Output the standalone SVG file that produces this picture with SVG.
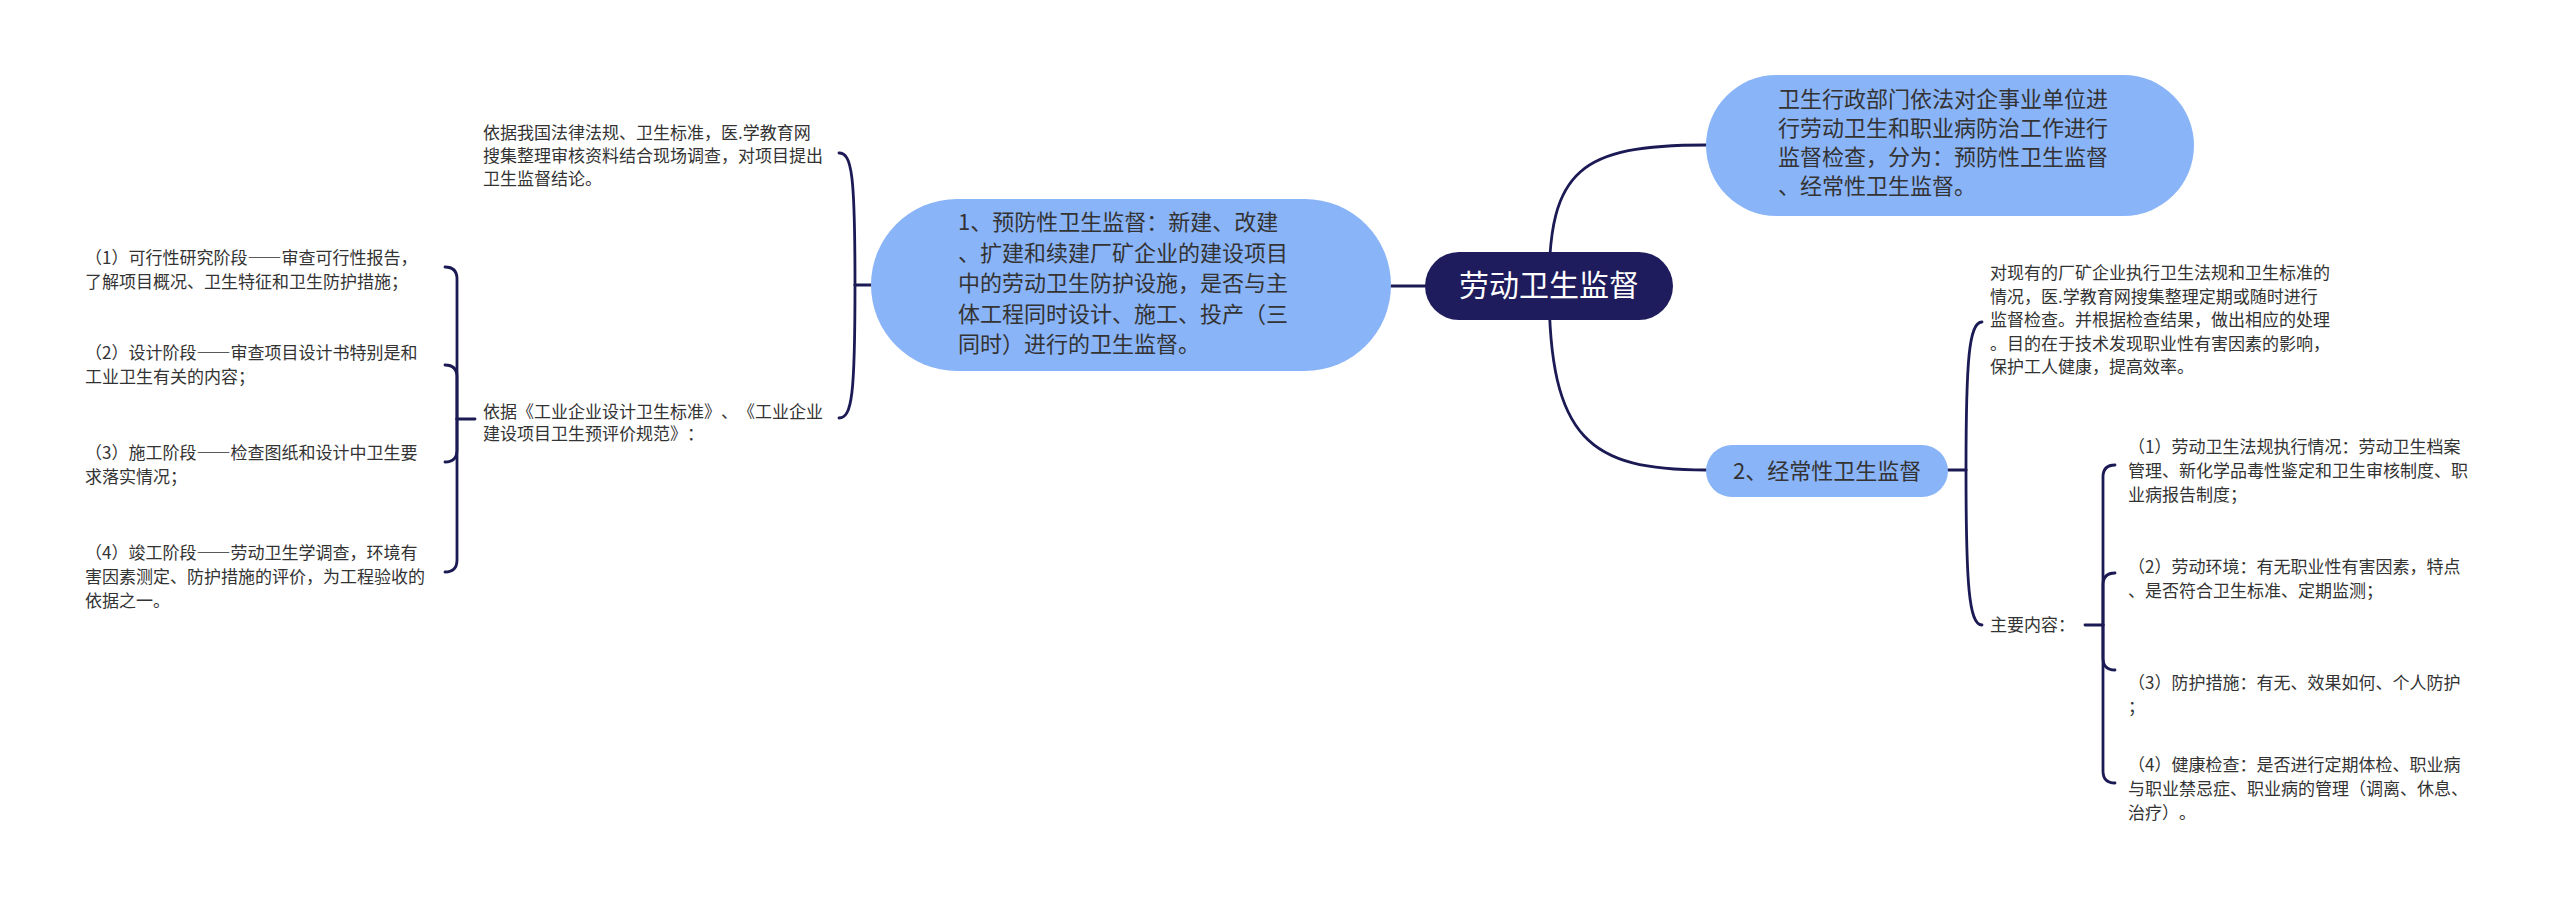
<svg xmlns="http://www.w3.org/2000/svg" width="2560" height="901" viewBox="0 0 2560 901">
<style>
.bg{fill:#ffffff}
.edge{fill:none;stroke:#1c1a55;stroke-width:2.8;stroke-linecap:round}
.root{fill:#1e1c5c}
.blue{fill:#8ab4f8}
.t{font-family:"Noto Sans CJK SC","Noto Sans",sans-serif;text-spacing-trim:space-all}
.rootT{font-size:30px;fill:#ffffff}
.bT{font-size:22px;fill:#333333}
.sT{font-size:17px;fill:#333333}
.fw{font-feature-settings:"fwid"}
</style>
<rect class="bg" x="0" y="0" width="2560" height="901"/>
<g id="connectors">
  <path class="edge" d="M1425,286 H1391"/>
  <path class="edge" d="M1549,286 C1549,170 1580,145 1706,145"/>
  <path class="edge" d="M1549,286 C1549,440 1590,470 1706,470"/>
  <path class="edge" d="M871,285 H855"/>
  <path class="edge" d="M855,285 C855,175 852,153 839,153"/>
  <path class="edge" d="M855,285 C855,395 852,418 839,418"/>
  <path class="edge" d="M475,419 H457"/>
  <path class="edge" d="M457,419 V279 Q457,267 445,267"/>
  <path class="edge" d="M457,419 V377 Q457,365 445,365"/>
  <path class="edge" d="M457,419 V450 Q457,462 445,462"/>
  <path class="edge" d="M457,419 V560 Q457,572 445,572"/>
  <path class="edge" d="M1948,470 H1966"/>
  <path class="edge" d="M1966,470 C1966,360 1969,322 1982,322"/>
  <path class="edge" d="M1966,470 C1966,585 1969,625 1982,625"/>
  <path class="edge" d="M2085,625 H2103"/>
  <path class="edge" d="M2103,625 V477 Q2103,465 2115,465"/>
  <path class="edge" d="M2103,625 V585 Q2103,573 2115,573"/>
  <path class="edge" d="M2103,625 V658 Q2103,670 2115,670"/>
  <path class="edge" d="M2103,625 V771 Q2103,783 2115,783"/>
</g>
<g id="root">
  <rect class="root" x="1425" y="252" width="248" height="68" rx="34"/>
  <text class="t rootT" x="1549" y="296" text-anchor="middle">劳动卫生监督</text>
</g>
<g id="node1">
  <rect class="blue" x="871" y="199" width="520" height="172" rx="86"/>
  <text class="t bT">
    <tspan x="958" y="230">1、预防性卫生监督：新建、改建</tspan>
    <tspan x="958" y="261">、扩建和续建厂矿企业的建设项目</tspan>
    <tspan x="958" y="291">中的劳动卫生防护设施，是否与主</tspan>
    <tspan x="958" y="322">体工程同时设计、施工、投产（三</tspan>
    <tspan x="958" y="352">同时）进行的卫生监督。</tspan>
  </text>
</g>
<g id="node-top">
  <rect class="blue" x="1706" y="75" width="488" height="141" rx="70.5"/>
  <text class="t bT">
    <tspan x="1778" y="107">卫生行政部门依法对企事业单位进</tspan>
    <tspan x="1778" y="136">行劳动卫生和职业病防治工作进行</tspan>
    <tspan x="1778" y="165">监督检查，分为：预防性卫生监督</tspan>
    <tspan x="1778" y="194">、经常性卫生监督。</tspan>
  </text>
</g>
<g id="node2">
  <rect class="blue" x="1706" y="445" width="242" height="52" rx="26"/>
  <text class="t bT" x="1733" y="479">2、经常性卫生监督</text>
</g>
<g id="n1-basis">
  <text class="t sT">
    <tspan x="483" y="139">依据我国法律法规、卫生标准，医.学教育网</tspan>
    <tspan x="483" y="162">搜集整理审核资料结合现场调查，对项目提出</tspan>
    <tspan x="483" y="185">卫生监督结论。</tspan>
  </text>
</g>
<g id="n1-standards">
  <text class="t sT">
    <tspan x="483" y="418">依据《工业企业设计卫生标准》、《工业企业</tspan>
    <tspan x="483" y="440">建设项目卫生预评价规范》：</tspan>
  </text>
</g>
<g id="stage1">
  <text class="t sT">
    <tspan x="85" y="264">（1）可行性研究阶段<tspan class="fw">——</tspan>审查可行性报告，</tspan>
    <tspan x="85" y="288">了解项目概况、卫生特征和卫生防护措施；</tspan>
  </text>
</g>
<g id="stage2">
  <text class="t sT">
    <tspan x="85" y="359">（2）设计阶段<tspan class="fw">——</tspan>审查项目设计书特别是和</tspan>
    <tspan x="85" y="383">工业卫生有关的内容；</tspan>
  </text>
</g>
<g id="stage3">
  <text class="t sT">
    <tspan x="85" y="459">（3）施工阶段<tspan class="fw">——</tspan>检查图纸和设计中卫生要</tspan>
    <tspan x="85" y="483">求落实情况；</tspan>
  </text>
</g>
<g id="stage4">
  <text class="t sT">
    <tspan x="85" y="559">（4）竣工阶段<tspan class="fw">——</tspan>劳动卫生学调查，环境有</tspan>
    <tspan x="85" y="583">害因素测定、防护措施的评价，为工程验收的</tspan>
    <tspan x="85" y="607">依据之一。</tspan>
  </text>
</g>
<g id="n2-desc">
  <text class="t sT">
    <tspan x="1990" y="279">对现有的厂矿企业执行卫生法规和卫生标准的</tspan>
    <tspan x="1990" y="302.5">情况，医.学教育网搜集整理定期或随时进行</tspan>
    <tspan x="1990" y="326">监督检查。并根据检查结果，做出相应的处理</tspan>
    <tspan x="1990" y="349.5">。目的在于技术发现职业性有害因素的影响，</tspan>
    <tspan x="1990" y="373">保护工人健康，提高效率。</tspan>
  </text>
</g>
<g id="n2-main">
  <text class="t sT" x="1990" y="631">主要内容：</text>
</g>
<g id="item1">
  <text class="t sT">
    <tspan x="2128" y="453">（1）劳动卫生法规执行情况：劳动卫生档案</tspan>
    <tspan x="2128" y="477">管理、新化学品毒性鉴定和卫生审核制度、职</tspan>
    <tspan x="2128" y="501">业病报告制度；</tspan>
  </text>
</g>
<g id="item2">
  <text class="t sT">
    <tspan x="2128" y="573">（2）劳动环境：有无职业性有害因素，特点</tspan>
    <tspan x="2128" y="597">、是否符合卫生标准、定期监测；</tspan>
  </text>
</g>
<g id="item3">
  <text class="t sT">
    <tspan x="2128" y="689">（3）防护措施：有无、效果如何、个人防护</tspan>
    <tspan x="2128" y="713">；</tspan>
  </text>
</g>
<g id="item4">
  <text class="t sT">
    <tspan x="2128" y="771">（4）健康检查：是否进行定期体检、职业病</tspan>
    <tspan x="2128" y="795">与职业禁忌症、职业病的管理（调离、休息、</tspan>
    <tspan x="2128" y="819">治疗）。</tspan>
  </text>
</g>
</svg>
